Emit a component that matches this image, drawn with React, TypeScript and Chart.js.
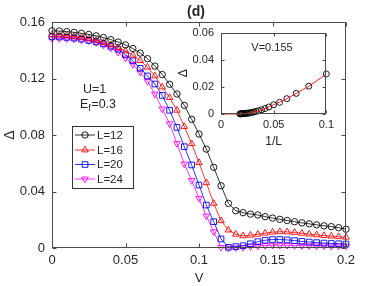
import React, { useEffect, useRef } from 'react';
import { Chart, registerables } from 'chart.js';
Chart.register(...registerables);

const FONT = "'Liberation Sans', Arial, Helvetica, sans-serif";
const TEXT = '#262626';
const AXIS = '#4a4a4a';

// Main panel data
const V = [0, 0.005, 0.01, 0.015, 0.02, 0.025, 0.03, 0.035, 0.04, 0.045, 0.05, 0.055, 0.06, 0.065, 0.07, 0.075, 0.08, 0.085, 0.09, 0.095, 0.1, 0.105, 0.11, 0.115, 0.12, 0.125, 0.13, 0.135, 0.14, 0.145, 0.15, 0.155, 0.16, 0.165, 0.17, 0.175, 0.18, 0.185, 0.19, 0.195, 0.2];
const L12 = [0.1538, 0.1536, 0.1532, 0.1527, 0.152, 0.1512, 0.1502, 0.149, 0.1475, 0.1458, 0.1438, 0.1412, 0.138, 0.134, 0.1288, 0.1228, 0.1159, 0.109, 0.101, 0.0911, 0.0807, 0.07, 0.0571, 0.0441, 0.0316, 0.0264, 0.025, 0.024, 0.0234, 0.0222, 0.0212, 0.0203, 0.0195, 0.0186, 0.0178, 0.0171, 0.0164, 0.0157, 0.0151, 0.0144, 0.0133];
const L16 = [0.1508, 0.1507, 0.1504, 0.1498, 0.1491, 0.1482, 0.147, 0.1455, 0.1438, 0.1418, 0.1395, 0.1365, 0.1327, 0.128, 0.1218, 0.114, 0.1065, 0.0975, 0.086, 0.0738, 0.0604, 0.0462, 0.0316, 0.0193, 0.0127, 0.0097, 0.0086, 0.009, 0.0097, 0.0105, 0.0112, 0.0115, 0.0114, 0.011, 0.0104, 0.0098, 0.0093, 0.0088, 0.0084, 0.008, 0.0076];
const L20 = [0.1495, 0.1494, 0.1491, 0.1486, 0.1479, 0.147, 0.1459, 0.1445, 0.1428, 0.1407, 0.1368, 0.1325, 0.1272, 0.1218, 0.1161, 0.108, 0.0975, 0.0854, 0.0717, 0.0588, 0.0446, 0.0304, 0.0186, 0.0064, 0.0005, 0.001, 0.0016, 0.003, 0.0045, 0.0055, 0.006, 0.006, 0.0057, 0.0052, 0.0047, 0.0042, 0.0038, 0.0035, 0.0032, 0.003, 0.0028];
const L24 = [0.1484, 0.1483, 0.1482, 0.1479, 0.1474, 0.1467, 0.1455, 0.1438, 0.1415, 0.1385, 0.1345, 0.13, 0.1245, 0.118, 0.109, 0.0985, 0.088, 0.074, 0.0595, 0.0478, 0.0352, 0.0227, 0.0115, 0.0005, 0.0, 0.0002, 0.0005, 0.001, 0.0015, 0.0018, 0.002, 0.002, 0.0019, 0.0018, 0.0017, 0.0016, 0.0015, 0.0015, 0.0014, 0.0014, 0.0014];
const seriesLabels = ['L=12', 'L=16', 'L=20', 'L=24'];
const seriesColors = ['#000000', '#ff0000', '#0000ff', '#ff00ff'];
const xTicks = [0, 0.05, 0.1, 0.15, 0.2];
const xTickLabels = ['0', '0.05', '0.1', '0.15', '0.2'];
const yTicks = [0, 0.04, 0.08, 0.12, 0.16];
const yTickLabels = ['0', '0.04', '0.08', '0.12', '0.16'];

// Inset data (V = 0.155)
const insetInvL = [0.1, 0.0833, 0.0714, 0.0625, 0.0556, 0.05, 0.0455, 0.0417, 0.0385, 0.0357, 0.0333, 0.0313, 0.0294, 0.0278, 0.0263, 0.025, 0.0238, 0.0227, 0.0217, 0.0208, 0.02, 0.0192, 0.0185, 0.0179];
const insetGap = [0.0295, 0.0205, 0.0152, 0.0113, 0.0086, 0.0068, 0.0052, 0.004, 0.0031, 0.0024, 0.0019, 0.0015, 0.0012, 0.0009, 0.0007, 0.0006, 0.0005, 0.0004, 0.0003, 0.0003, 0.0002, 0.0002, 0.0001, 0.0001];
const insetFitX = [0, 0.0175, 0.025, 0.0313, 0.0417, 0.05, 0.0625, 0.0714, 0.0833, 0.1];
const insetFitY = [0, 0, 0.0006, 0.0015, 0.004, 0.0068, 0.0113, 0.0152, 0.0205, 0.0295];
const insetXTicks = [0, 0.05, 0.1];
const insetXTickLabels = ['0', '0.05', '0.1'];
const insetYTicks = [0, 0.02, 0.04, 0.06];
const insetYTickLabels = ['0', '0.02', '0.04', '0.06'];

type MarkerKind = 'circle' | 'triangle' | 'rect' | 'triangleDown';
const seriesMarkers: MarkerKind[] = ['circle', 'triangle', 'rect', 'triangleDown'];

const INSET_LEFT = 176;
const INSET_TOP = 19;

function labelFor(vals: number[], labels: string[]) {
  return (v: any) => {
    const i = vals.findIndex((t) => Math.abs(t - Number(v)) < 1e-9);
    return i >= 0 ? labels[i] : '';
  };
}

function drawMarker(ctx: CanvasRenderingContext2D, kind: MarkerKind, x: number, y: number, r: number, color: string) {
  ctx.save();
  ctx.strokeStyle = color;
  ctx.lineWidth = 0.9;
  ctx.beginPath();
  if (kind === 'circle') ctx.arc(x, y, r, 0, Math.PI * 2);
  else if (kind === 'rect') {
    const s = r * Math.SQRT1_2;
    ctx.rect(x - s, y - s, 2 * s, 2 * s);
  } else if (kind === 'triangle') {
    ctx.moveTo(x, y - r);
    ctx.lineTo(x + r * 0.866, y + r * 0.5);
    ctx.lineTo(x - r * 0.866, y + r * 0.5);
    ctx.closePath();
  } else {
    ctx.moveTo(x, y + r);
    ctx.lineTo(x + r * 0.866, y - r * 0.5);
    ctx.lineTo(x - r * 0.866, y - r * 0.5);
    ctx.closePath();
  }
  ctx.stroke();
  ctx.restore();
}

function framePlugin(id: string, tickLen: number, fillWhite: boolean) {
  return {
    id,
    beforeDatasetsDraw(chart: any) {
      if (!fillWhite) return;
      const { ctx, chartArea: a } = chart;
      ctx.save();
      ctx.fillStyle = '#ffffff';
      ctx.fillRect(a.left, a.top, a.right - a.left, a.bottom - a.top);
      ctx.restore();
    },
    afterDatasetsDraw(chart: any) {
      const { ctx, chartArea: a, scales } = chart;
      const L = Math.round(a.left) + 0.5;
      const R = Math.round(a.right) - 0.5;
      const T = Math.round(a.top) + 0.5;
      const B = Math.round(a.bottom) - 0.5;
      ctx.save();
      ctx.strokeStyle = AXIS;
      ctx.lineWidth = 1;
      ctx.strokeRect(L, T, R - L, B - T);
      ctx.beginPath();
      scales.x.ticks.forEach((t: any) => {
        const px = Math.round(scales.x.getPixelForValue(t.value)) + 0.5;
        ctx.moveTo(px, B);
        ctx.lineTo(px, B - tickLen);
        ctx.moveTo(px, T);
        ctx.lineTo(px, T + tickLen);
      });
      scales.y.ticks.forEach((t: any) => {
        const py = Math.round(scales.y.getPixelForValue(t.value)) + 0.5;
        ctx.moveTo(L, py);
        ctx.lineTo(L + tickLen, py);
        ctx.moveTo(R, py);
        ctx.lineTo(R - tickLen, py);
      });
      ctx.stroke();
      ctx.restore();
    },
  };
}

const mainAnnotations = {
  id: 'mainAnnotations',
  afterDraw(chart: any) {
    const ctx: CanvasRenderingContext2D = chart.ctx;
    ctx.save();
    ctx.fillStyle = TEXT;
    ctx.textBaseline = 'middle';
    ctx.textAlign = 'center';
    ctx.font = `bold 14px ${FONT}`;
    ctx.fillText('(d)', 196, 12);
    ctx.textAlign = 'left';
    ctx.font = `12.5px ${FONT}`;
    ctx.fillText('U=1', 83, 90);
    ctx.fillText('E', 80, 105);
    const ew = ctx.measureText('E').width;
    ctx.font = `9px ${FONT}`;
    ctx.fillText('f', 80 + ew, 109);
    const fw = ctx.measureText('f').width;
    ctx.font = `12.5px ${FONT}`;
    ctx.fillText('=0.3', 80 + ew + fw + 0.5, 105);

    // legend
    ctx.fillStyle = '#ffffff';
    ctx.fillRect(72.5, 126.5, 61, 62);
    ctx.strokeStyle = '#333333';
    ctx.lineWidth = 1;
    ctx.strokeRect(72.5, 126.5, 61, 62);
    const ys = [135, 150, 164.5, 179];
    seriesLabels.forEach((lab, i) => {
      const y = ys[i];
      ctx.strokeStyle = seriesColors[i];
      ctx.lineWidth = 0.8;
      ctx.beginPath();
      ctx.moveTo(75, y);
      ctx.lineTo(95, y);
      ctx.stroke();
      const r = seriesMarkers[i] === 'circle' ? 3.2 : seriesMarkers[i] === 'rect' ? 4 : 3.8;
      drawMarker(ctx, seriesMarkers[i], 85, y, r, seriesColors[i]);
      ctx.fillStyle = TEXT;
      ctx.font = `11.5px ${FONT}`;
      ctx.fillText(lab, 97, y + 0.5);
    });
    ctx.restore();
  },
};

const insetAnnotations = {
  id: 'insetAnnotations',
  afterDraw(chart: any) {
    const ctx: CanvasRenderingContext2D = chart.ctx;
    ctx.save();
    ctx.fillStyle = TEXT;
    ctx.textBaseline = 'middle';
    ctx.textAlign = 'center';
    ctx.font = `11px ${FONT}`;
    ctx.fillText('V=0.155', 272 - INSET_LEFT, 47.5 - INSET_TOP);
    ctx.restore();
  },
};

export default function App() {
  const mainRef = useRef<HTMLCanvasElement>(null);
  const insetRef = useRef<HTMLCanvasElement>(null);

  useEffect(() => {
    const pointStyles: any[] = ['circle', 'triangle', 'rect', 'triangle'];
    const rotations = [0, 0, 0, 180];
    const radii = [3.2, 3.8, 4, 3.8];
    const series = [L12, L16, L20, L24];
    const noGrid = { display: false, drawTicks: false, tickLength: 0 };
    const main = new Chart(mainRef.current!, {
      type: 'line',
      data: {
        datasets: series.map((s, i) => ({
          label: seriesLabels[i],
          data: V.map((v, j) => ({ x: v, y: s[j] })),
          borderColor: seriesColors[i],
          borderWidth: 0.8,
          pointStyle: pointStyles[i],
          rotation: rotations[i],
          pointRadius: radii[i],
          pointBorderWidth: 0.9,
          pointBorderColor: seriesColors[i],
          pointBackgroundColor: 'rgba(0,0,0,0)',
          fill: false,
          tension: 0,
          clip: false as any,
        })),
      },
      options: {
        responsive: false,
        animation: false,
        events: [],
        layout: { padding: { left: 0, right: 36, top: 22, bottom: 0 } },
        plugins: { legend: { display: false }, tooltip: { enabled: false }, title: { display: false } },
        scales: {
          x: {
            type: 'linear',
            min: 0,
            max: 0.2,
            grid: noGrid,
            border: { display: false },
            afterBuildTicks: (s: any) => { s.ticks = xTicks.map((v) => ({ value: v })); },
            afterFit: (s: any) => { s.height = 38; },
            ticks: { padding: 5, color: TEXT, font: { size: 13, family: FONT }, maxRotation: 0, callback: labelFor(xTicks, xTickLabels) },
            title: { display: true, text: 'V', color: TEXT, font: { size: 13, family: FONT }, padding: { top: 0, bottom: 0 } },
          },
          y: {
            type: 'linear',
            min: 0,
            max: 0.16,
            grid: noGrid,
            border: { display: false },
            afterBuildTicks: (s: any) => { s.ticks = yTicks.map((v) => ({ value: v })); },
            afterFit: (s: any) => { s.width = 52; },
            ticks: { padding: 7, color: TEXT, font: { size: 13, family: FONT }, callback: labelFor(yTicks, yTickLabels) },
            title: { display: true, text: 'Δ', color: TEXT, font: { size: 14, family: FONT }, padding: { top: 2, bottom: 0 } },
          },
        },
      },
      plugins: [framePlugin('mainFrame', 4, false), mainAnnotations],
    } as any);

    const inset = new Chart(insetRef.current!, {
      type: 'line',
      data: {
        datasets: [
          {
            label: 'fit',
            data: insetFitX.map((x, j) => ({ x, y: insetFitY[j] })),
            borderColor: '#ff0000',
            borderWidth: 0.9,
            pointRadius: 0,
            fill: false,
            tension: 0.3,
            clip: false as any,
          },
          {
            label: 'data',
            data: insetInvL.map((x, j) => ({ x, y: insetGap[j] })),
            showLine: false,
            pointStyle: 'circle',
            pointRadius: 3,
            pointBorderWidth: 0.9,
            pointBorderColor: '#000000',
            pointBackgroundColor: 'rgba(0,0,0,0)',
            clip: false as any,
          },
        ],
      },
      options: {
        responsive: false,
        animation: false,
        events: [],
        layout: { padding: { left: 0, right: 10, top: 0, bottom: 0 } },
        plugins: { legend: { display: false }, tooltip: { enabled: false }, title: { display: false } },
        scales: {
          x: {
            type: 'linear',
            min: 0,
            max: 0.1,
            grid: noGrid,
            border: { display: false },
            afterBuildTicks: (s: any) => { s.ticks = insetXTicks.map((v) => ({ value: v })); },
            afterFit: (s: any) => { s.height = 36; },
            ticks: { padding: 4, color: TEXT, font: { size: 11, family: FONT }, maxRotation: 0, callback: labelFor(insetXTicks, insetXTickLabels) },
            title: { display: true, text: '1/L', color: TEXT, font: { size: 12, family: FONT }, padding: { top: 0, bottom: 1 } },
          },
          y: {
            type: 'linear',
            min: 0,
            max: 0.06,
            grid: noGrid,
            border: { display: false },
            afterBuildTicks: (s: any) => { s.ticks = insetYTicks.map((v) => ({ value: v })); },
            afterFit: (s: any) => { s.width = 45; },
            ticks: { padding: 7, color: TEXT, font: { size: 11, family: FONT }, callback: labelFor(insetYTicks, insetYTickLabels) },
            title: { display: true, text: 'Δ', color: TEXT, font: { size: 12, family: FONT }, padding: { top: 0, bottom: 0 } },
          },
        },
      },
      plugins: [framePlugin('insetFrame', 3, true), insetAnnotations],
    } as any);

    return () => {
      main.destroy();
      inset.destroy();
    };
  }, []);

  return (
    <div style={{ position: 'fixed', left: 0, top: 0, width: 382, height: 286, background: '#ffffff' }}>
      <canvas ref={mainRef} width={382} height={286} style={{ position: 'absolute', left: 0, top: 0, width: 382, height: 286 }} />
      <canvas ref={insetRef} width={162} height={131} style={{ position: 'absolute', left: INSET_LEFT, top: INSET_TOP, width: 162, height: 131 }} />
    </div>
  );
}
